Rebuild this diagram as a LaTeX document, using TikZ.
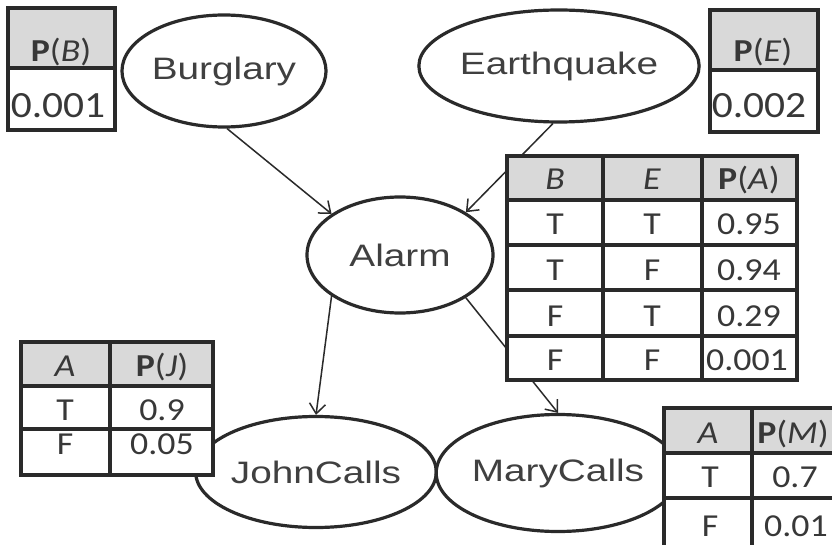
\documentclass[tikz,border=0pt]{standalone}
\usepackage{fontspec}
\usetikzlibrary{shapes.geometric,arrows.meta}
\newfontfamily\ellfont[FakeStretch=1.25]{Liberation Sans}
\newfontfamily\tabfont[FakeStretch=1.12]{Carlito}
\definecolor{linec}{HTML}{2A2A2A}
\definecolor{txtc}{HTML}{383838}
\definecolor{etxtc}{HTML}{404040}
\definecolor{hdrc}{HTML}{D9D9D9}
\tikzset{
  ell/.style={draw=linec, line width=3.2pt, ellipse, inner sep=0pt, text=etxtc,
    font=\ellfont\fontsize{31}{31}\selectfont},
  conn/.style={draw=linec, line width=1.5pt,
    -{Straight Barb[length=10pt,width=16pt,line width=1.5pt]}},
  tabline/.style={draw=linec, line width=3.2pt},
  cell/.style={anchor=base, inner sep=0pt, text=txtc, font=\tabfont\fontsize{32}{32}\selectfont},
  bigcell/.style={anchor=base, inner sep=0pt, text=txtc, font=\tabfont\fontsize{37}{37}\selectfont},
}
\begin{document}
\begin{tikzpicture}[x=1pt,y=-1pt]
\useasboundingbox (0,0) rectangle (832,545);
\clip (0,0) rectangle (832,545);
\fill[white] (0,0) rectangle (832,545);

% nodes
\node[ell, minimum width=192pt, minimum height=112pt] (burg) at (224,71) {Burglary};
\node[ell, minimum width=252pt, minimum height=112pt] (eq) at (559,66) {Earthquake};
\node[ell, minimum width=186pt, minimum height=116pt] (alarm) at (400,255) {Alarm};
\node[ell, minimum width=210pt, minimum height=111pt] (john) at (316,472) {JohnCalls};
\node[ell, minimum width=210pt, minimum height=117pt] (mary) at (558,473) {MaryCalls};

% connectors
\draw[conn] (burg.273) -- (alarm.149);
\draw[conn] (eq.264) -- (alarm.33);
\draw[conn] (alarm.211) -- (john.north);
\draw[conn] (alarm.-33) -- (mary.north);

% P(B) table
\fill[white] (8,8) rectangle (115,130);
\fill[hdrc] (8,8) rectangle (115,68);
\draw[tabline] (8,8) rectangle (115,130);
\draw[tabline] (8,68) -- (115,68);
\node[cell] (pb-h) at (61,62) {\textbf{P}(\textit{B})};
\node[bigcell] (pb-v) at (58,118) {0.001};

% P(E) table
\fill[white] (710,10) rectangle (818,132);
\fill[hdrc] (710,10) rectangle (818,70);
\draw[tabline] (710,10) rectangle (818,132);
\draw[tabline] (710,70) -- (818,70);
\node[cell] (pe-h) at (763,62) {\textbf{P}(\textit{E})};
\node[bigcell] (pe-v) at (759,118) {0.002};

% P(A) table
\fill[white] (507,156) rectangle (797,380);
\fill[hdrc] (507,156) rectangle (797,200);
\draw[tabline] (507,156) rectangle (797,380);
\draw[tabline] (603,156) -- (603,380) (702,156) -- (702,380);
\foreach \yy in {200,245,290,336} \draw[tabline] (507,\yy) -- (797,\yy);
\node[cell] (pa-h1) at (555,190) {\textit{B}};
\node[cell] (pa-h2) at (652,190) {\textit{E}};
\node[cell] (pa-h3) at (749,190) {\textbf{P}(\textit{A})};
\node[cell] (pa-11) at (555,235) {T};
\node[cell] (pa-12) at (652,235) {T};
\node[cell] (pa-13) at (749,235) {0.95};
\node[cell] (pa-21) at (555,280) {T};
\node[cell] (pa-22) at (652,280) {F};
\node[cell] (pa-23) at (749,280) {0.94};
\node[cell] (pa-31) at (555,326) {F};
\node[cell] (pa-32) at (652,326) {T};
\node[cell] (pa-33) at (749,326) {0.29};
\node[cell] (pa-41) at (555,370) {F};
\node[cell] (pa-42) at (652,370) {F};
\node[cell] (pa-43) at (747,370) {0.001};

% P(J) table
\fill[white] (21,342) rectangle (213,475);
\fill[hdrc] (21,342) rectangle (213,386);
\draw[tabline] (21,342) rectangle (213,475);
\draw[tabline] (110,342) -- (110,475);
\draw[tabline] (21,386) -- (213,386) (21,429) -- (213,429);
\node[cell] (pj-h1) at (65,376) {\textit{A}};
\node[cell] (pj-h2) at (162,376) {\textbf{P}(\textit{J})};
\node[cell] (pj-11) at (65,420) {T};
\node[cell] (pj-12) at (162,420) {0.9};
\node[cell] (pj-21) at (65,454) {F};
\node[cell] (pj-22) at (162,454) {0.05};

% P(M) table
\fill[white] (664,408) rectangle (845,550);
\fill[hdrc] (664,408) rectangle (845,453);
\draw[tabline] (664,408) rectangle (845,550);
\draw[tabline] (752,408) -- (752,550);
\draw[tabline] (664,453) -- (845,453) (664,498) -- (845,498);
\node[cell] (pm-h1) at (708,443) {\textit{A}};
\node[cell] (pm-h2) at (793,443) {\textbf{P}(\textit{M})};
\node[cell] (pm-11) at (710,487) {T};
\node[cell] (pm-12) at (795,487) {0.7};
\node[cell] (pm-21) at (710,536) {F};
\node[cell] (pm-22) at (796,536) {0.01};
\end{tikzpicture}
\end{document}
